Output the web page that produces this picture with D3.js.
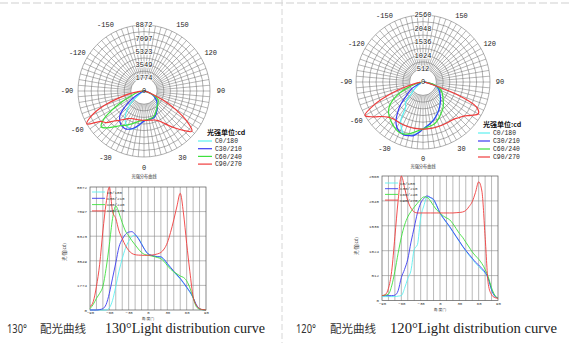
<!DOCTYPE html>
<html><head><meta charset="utf-8">
<script src="https://cdn.jsdelivr.net/npm/d3@7/dist/d3.min.js"></script>
<style>body{margin:0;background:#fff}svg{display:block}</style>
</head><body>
<svg id="c" width="570" height="343"></svg>
<script>
// ---- data ----
const angles = d3.range(-90, 91, 5);
const seriesNames = ["C0/180", "C30/210", "C60/240", "C90/270"];
const colors = ["#5cf0f0", "#3b3bf0", "#3ee03e", "#f03c3c"];

// 130° luminaire (cd)
const a_C0   = [0,0,0,0,0,0,150,700,1700,2800,3700,4450,4950,5300,5400,5200,4800,4350,4050,3950,3880,3850,3820,3620,3300,3030,2750,2480,2230,1930,1600,1280,870,350,80,20,0];
const a_C30  = [0,0,0,30,100,400,1200,2300,3400,4550,5100,5450,5620,5650,5450,5150,4750,4350,4050,3950,3880,3850,3830,3650,3350,3080,2800,2530,2280,1980,1650,1320,900,380,80,20,0];
const a_C60  = [100,400,840,1200,1700,3000,4700,6600,7500,7000,6300,5700,5350,5000,4700,4400,4150,4000,3950,3900,3850,3780,3700,3500,3200,2950,2750,2600,2450,2350,2100,1600,900,240,60,20,0];
const a_C90  = [240,600,1700,3300,5700,7700,8872,7100,6600,5700,5150,4650,4300,4080,3990,3960,3950,3940,3950,3960,3990,4050,4150,4400,4850,5600,6500,7500,8420,7000,4800,2760,960,350,100,30,0];
const a_ticks = [1774, 3549, 5323, 7097, 8872];

// 120° luminaire (cd)
const b_C0   = [80,80,80,80,80,90,100,250,450,620,1050,1150,1700,1950,2130,2110,2060,1940,1790,1690,1600,1510,1410,1310,1210,1110,1020,930,850,770,700,630,560,440,220,90,50];
const b_C30  = [100,100,100,100,110,200,470,640,850,1200,1500,1800,2000,2100,2150,2120,2080,1950,1800,1700,1610,1520,1420,1320,1220,1120,1030,950,870,790,730,660,580,450,220,90,50];
const b_C60  = [100,110,130,300,600,970,1300,1550,1720,1830,1920,2000,2080,2130,2120,2050,1950,1860,1800,1740,1700,1660,1580,1480,1380,1300,1200,1100,1000,920,850,760,640,480,260,110,50];
const b_C90  = [100,120,250,600,1312,2050,2560,2320,2050,1900,1820,1800,1800,1800,1800,1800,1800,1800,1800,1800,1800,1800,1800,1805,1810,1820,1850,1930,2030,2220,2440,2250,1312,330,120,60,45];
const b_ticks = [512, 1024, 1536, 2048, 2560];

const polarAngleLabels = [-150, -120, -90, -60, -30, 0, 30, 90, 120, 150];
const xTickLabels = [-90, -60, -30, 0, 30, 60, 90];
const captionsCN = ["130°", "120°"];
const captionsEN = ["130°Light distribution curve", "120°Light distribution curve"];

// ---- drawing ----
const svg = d3.select("#c");
const MONO = "'Liberation Mono','DejaVu Sans Mono',monospace";
const CJK = "'Noto Sans CJK SC','Noto Sans',sans-serif";

svg.append("line").attr("x1", 0).attr("x2", 570).attr("y1", 3).attr("y2", 3)
  .attr("stroke", "#cfcfcf").attr("stroke-width", 1).attr("stroke-dasharray", "8,3");
svg.append("line").attr("x1", 282).attr("x2", 282).attr("y1", 0).attr("y2", 343)
  .attr("stroke", "#d6d6d6").attr("stroke-width", 1).attr("stroke-dasharray", "6,3");

function polar(cfg) {
  const g = svg.append("g").attr("transform", `translate(${cfg.cx},${cfg.cy})`);
  const r = d3.scaleLinear().domain([0, cfg.max]).range([0, cfg.R]);
  const rings = d3.range(2, 11).map(i => cfg.max * i / 10);
  g.selectAll("circle.ring").data(rings).join("circle")
    .attr("r", d => r(d)).attr("fill", "none").attr("stroke", "#6e6e6e").attr("stroke-width", 0.55);
  const rad = d => d * Math.PI / 180;
  g.selectAll("line.spoke").data(d3.range(0, 360, 5)).join("line")
    .attr("x1", d => r(cfg.max * 0.2) * Math.sin(rad(d))).attr("y1", d => r(cfg.max * 0.2) * Math.cos(rad(d)))
    .attr("x2", d => cfg.R * Math.sin(rad(d))).attr("y2", d => cfg.R * Math.cos(rad(d)))
    .attr("stroke", "#6e6e6e").attr("stroke-width", 0.5);
  const line = d3.lineRadial()
    .angle(d => Math.PI - rad(d[0])).radius(d => r(d[1])).curve(d3.curveCatmullRom);
  cfg.series.forEach((s, i) => {
    g.append("path").datum(angles.map((a, k) => [a, s[k]]))
      .attr("d", line).attr("fill", "none").attr("stroke", colors[i]).attr("stroke-width", 1.2);
  });
  g.selectAll("text.rl").data(cfg.ticks).join("text")
    .attr("x", 0).attr("y", d => -r(d) + 2.3).attr("text-anchor", "middle")
    .attr("font-family", MONO).attr("font-size", 7).attr("fill", "#222")
    .attr("stroke", "#fff").attr("stroke-width", 1.6).attr("paint-order", "stroke")
    .text(d => d);
  g.append("text").attr("x", 0).attr("y", 2.3).attr("text-anchor", "middle")
    .attr("font-family", MONO).attr("font-size", 7).attr("fill", "#222").text("0");
  g.selectAll("text.al").data(polarAngleLabels).join("text")
    .attr("x", d => 77 * Math.sin(rad(d))).attr("y", d => 77 * Math.cos(rad(d)) + 2.3)
    .attr("text-anchor", "middle").attr("font-family", MONO).attr("font-size", 7).attr("fill", "#222")
    .text(d => d);
  g.append("text").attr("x", 0).attr("y", cfg.subY).attr("text-anchor", "middle")
    .attr("font-family", CJK).attr("font-size", 4.2).attr("fill", "#333").text("光强分布曲线");
  const L = cfg.legend;
  svg.append("text").attr("x", L.tx).attr("y", L.ty).attr("font-family", CJK)
    .attr("font-size", 7).attr("font-weight", "bold").attr("fill", "#111").text("光强单位:cd");
  seriesNames.forEach((n, i) => {
    const y = L.y0 + i * L.dy;
    svg.append("line").attr("x1", L.lx0).attr("x2", L.lx1).attr("y1", y).attr("y2", y)
      .attr("stroke", colors[i]).attr("stroke-width", 1.2);
    svg.append("text").attr("x", L.textX).attr("y", y + 2.2).attr("font-family", MONO)
      .attr("font-size", 6.4).attr("fill", "#222").text(n);
  });
}

function cart(cfg) {
  const g = svg.append("g");
  const x = d3.scaleLinear().domain([-90, 90]).range([cfg.x0, cfg.x1]);
  const y = d3.scaleLinear().domain([0, cfg.max]).range([cfg.y0, cfg.y1]);
  g.selectAll("line.v").data(d3.range(-80, 90, 10)).join("line")
    .attr("x1", d => x(d)).attr("x2", d => x(d)).attr("y1", cfg.y0).attr("y2", cfg.y1)
    .attr("stroke", "#8a8a8a").attr("stroke-width", 0.6);
  g.selectAll("line.h").data(cfg.ticks.slice(0, -1)).join("line")
    .attr("x1", cfg.x0).attr("x2", cfg.x1).attr("y1", d => y(d)).attr("y2", d => y(d))
    .attr("stroke", "#8a8a8a").attr("stroke-width", 0.6);
  g.append("rect").attr("x", cfg.x0).attr("y", cfg.y1).attr("width", cfg.x1 - cfg.x0)
    .attr("height", cfg.y0 - cfg.y1).attr("fill", "none").attr("stroke", "#555").attr("stroke-width", 0.7);
  const line = d3.line().x(d => x(d[0])).y(d => y(d[1])).curve(d3.curveMonotoneX);
  cfg.series.forEach((s, i) => {
    g.append("path").datum(angles.map((a, k) => [a, s[k]]))
      .attr("d", line).attr("fill", "none").attr("stroke", colors[i]).attr("stroke-width", 0.9);
  });
  const ax = g.append("g").attr("transform", `translate(0,${cfg.y0})`)
    .call(d3.axisBottom(x).tickValues(xTickLabels).tickSize(0).tickPadding(1.2).tickFormat(d3.format("d")));
  ax.select(".domain").remove();
  ax.selectAll("text").attr("font-family", MONO).attr("font-size", 4).attr("fill", "#333");
  const ay = g.append("g").attr("transform", `translate(${cfg.x0},0)`)
    .call(d3.axisLeft(y).tickValues([0].concat(cfg.ticks)).tickSize(0).tickPadding(3).tickFormat(d3.format("d")));
  ay.select(".domain").remove();
  ay.selectAll("text").attr("font-family", MONO).attr("font-size", 4.2).attr("fill", "#333");
  g.append("text").attr("x", (cfg.x0 + cfg.x1) / 2).attr("y", cfg.y0 + 10.3).attr("text-anchor", "middle")
    .attr("font-family", CJK).attr("font-size", 3.8).attr("fill", "#333").text("角 度(°)");
  g.append("text").attr("transform", `translate(${cfg.x0 - 24},${cfg.ytY}) rotate(-90)`)
    .attr("text-anchor", "middle").attr("font-family", CJK).attr("font-size", 4.5).attr("fill", "#333").text("光 强(cd)");
  seriesNames.forEach((n, i) => {
    const yy = cfg.lg.y0 + i * cfg.lg.dy;
    g.append("line").attr("x1", cfg.lg.lx0).attr("x2", cfg.lg.lx1).attr("y1", yy).attr("y2", yy)
      .attr("stroke", colors[i]).attr("stroke-width", 0.9);
    g.append("text").attr("x", cfg.lg.lx1 + 2).attr("y", yy + 1.5).attr("font-family", MONO)
      .attr("font-size", 4.2).attr("fill", "#333").text(n);
  });
}

polar({cx: 144, cy: 91, R: 66, max: 8872, ticks: a_ticks, series: [a_C0, a_C30, a_C60, a_C90], subY: 87,
  legend: {tx: 207, ty: 134.5, lx0: 198, lx1: 212, textX: 215, y0: 141, dy: 7.7}});
polar({cx: 423, cy: 82, R: 67, max: 2560, ticks: b_ticks, series: [b_C0, b_C30, b_C60, b_C90], subY: 86,
  legend: {tx: 483, ty: 127, lx0: 478, lx1: 490, textX: 493, y0: 133, dy: 8}});

cart({x0: 90, x1: 206, y0: 310, y1: 187, max: 8872, ticks: a_ticks, series: [a_C0, a_C30, a_C60, a_C90], ytY: 252,
  lg: {lx0: 92, lx1: 105, y0: 192, dy: 6.3}});
cart({x0: 382, x1: 498, y0: 300.5, y1: 176, max: 2560, ticks: b_ticks, series: [b_C0, b_C30, b_C60, b_C90], ytY: 246,
  lg: {lx0: 385, lx1: 398, y0: 183, dy: 5.7}});

[[0, 7, 40, 105, 265], [1, 296, 330, 390, 557]].forEach(([i, xn, xc, xe, xend]) => {
  svg.append("text").attr("x", xn).attr("y", 333).attr("font-family", "'Noto Sans',sans-serif")
    .attr("font-size", 12).attr("fill", "#333").attr("textLength", 20).attr("lengthAdjust", "spacingAndGlyphs")
    .text(captionsCN[i]);
  svg.append("text").attr("x", xc).attr("y", 333).attr("font-family", CJK)
    .attr("font-size", 11.5).attr("fill", "#333").text("配光曲线");
  svg.append("text").attr("x", xe).attr("y", 333).attr("font-family", "'Liberation Serif',serif")
    .attr("font-size", 14).attr("fill", "#222").attr("textLength", xend - xe).attr("lengthAdjust", "spacingAndGlyphs")
    .text(captionsEN[i]);
});
</script>
</body></html>
